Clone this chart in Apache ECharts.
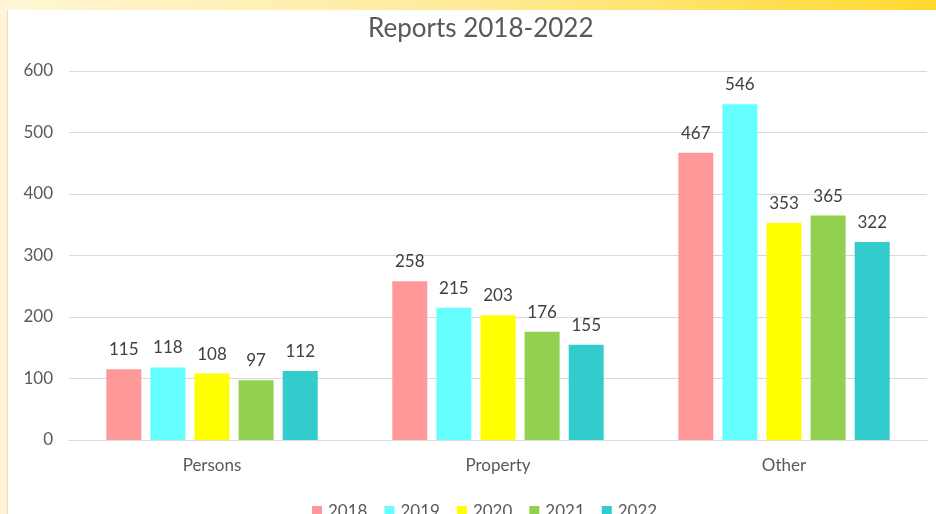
<!DOCTYPE html>
<html><head><meta charset="utf-8">
<script src="https://cdn.jsdelivr.net/npm/echarts@6/dist/echarts.min.js"></script>
<style>html,body{margin:0;padding:0;background:#fff}#c{width:936px;height:514px}</style>
</head><body><div id="c"></div>
<script>
const categories = ['Persons', 'Property', 'Other'];
const years = ['2018', '2019', '2020', '2021', '2022'];
const v2018 = [115, 258, 467];
const v2019 = [118, 215, 546];
const v2020 = [108, 203, 353];
const v2021 = [97, 176, 365];
const v2022 = [112, 155, 322];
const colors = ['#FF9999', '#66FFFF', '#FFFF00', '#92D050', '#33CCCC'];
const seriesData = [v2018, v2019, v2020, v2021, v2022];
const FONT = 'Lato';

const chart = echarts.init(document.getElementById('c'));
chart.setOption({
  animation: false,
  textStyle: { fontFamily: FONT },
  graphic: [
    { type: 'rect', left: 0, top: 0, shape: { width: 936, height: 10 }, z: -10,
      style: { fill: new echarts.graphic.LinearGradient(0, 0, 1, 0, [
        { offset: 0, color: '#FFF6D6' }, { offset: 0.5, color: '#FFEB99' }, { offset: 1, color: '#FFD92E' }]) } },
    { type: 'rect', left: 0, top: 0, shape: { width: 7, height: 514 }, z: -10,
      style: { fill: '#FFF5D6' } },
    { type: 'rect', left: 7, top: 10, shape: { width: 1, height: 504 }, z: -10,
      style: { fill: '#E4E0D0' } }
  ],
  title: {
    text: 'Reports 2018-2022', left: 363, top: 11,
    textStyle: { fontFamily: FONT, fontSize: 26, fontWeight: 'normal', color: '#595959' }
  },
  legend: {
    data: years, top: 503, left: 312, padding: 0, itemWidth: 10, itemHeight: 11, itemGap: 17,
    icon: 'rect',
    textStyle: { fontFamily: FONT, fontSize: 17, color: '#595959', padding: [0, 0, 0, 1] }
  },
  grid: { left: 69, right: 9, top: 71, bottom: 74, containLabel: false },
  xAxis: {
    type: 'category', data: categories,
    axisLine: { lineStyle: { color: '#D9D9D9' } },
    axisTick: { show: false },
    axisLabel: { fontFamily: FONT, fontSize: 17, color: '#595959', margin: 17 }
  },
  yAxis: {
    type: 'value', min: 0, max: 600, interval: 100,
    axisLine: { show: false }, axisTick: { show: false },
    splitLine: { lineStyle: { color: '#D9D9D9' } },
    axisLabel: { fontFamily: FONT, fontSize: 17, color: '#595959', margin: 16 }
  },
  series: years.map((y, i) => ({
    name: y, type: 'bar', data: seriesData[i],
    barWidth: 35, barGap: '26%', barCategoryGap: '26%',
    itemStyle: { color: colors[i] },
    label: { show: true, position: 'top', distance: 11, fontFamily: FONT, fontSize: 17, color: '#404040' }
  }))
});
</script></body></html>
